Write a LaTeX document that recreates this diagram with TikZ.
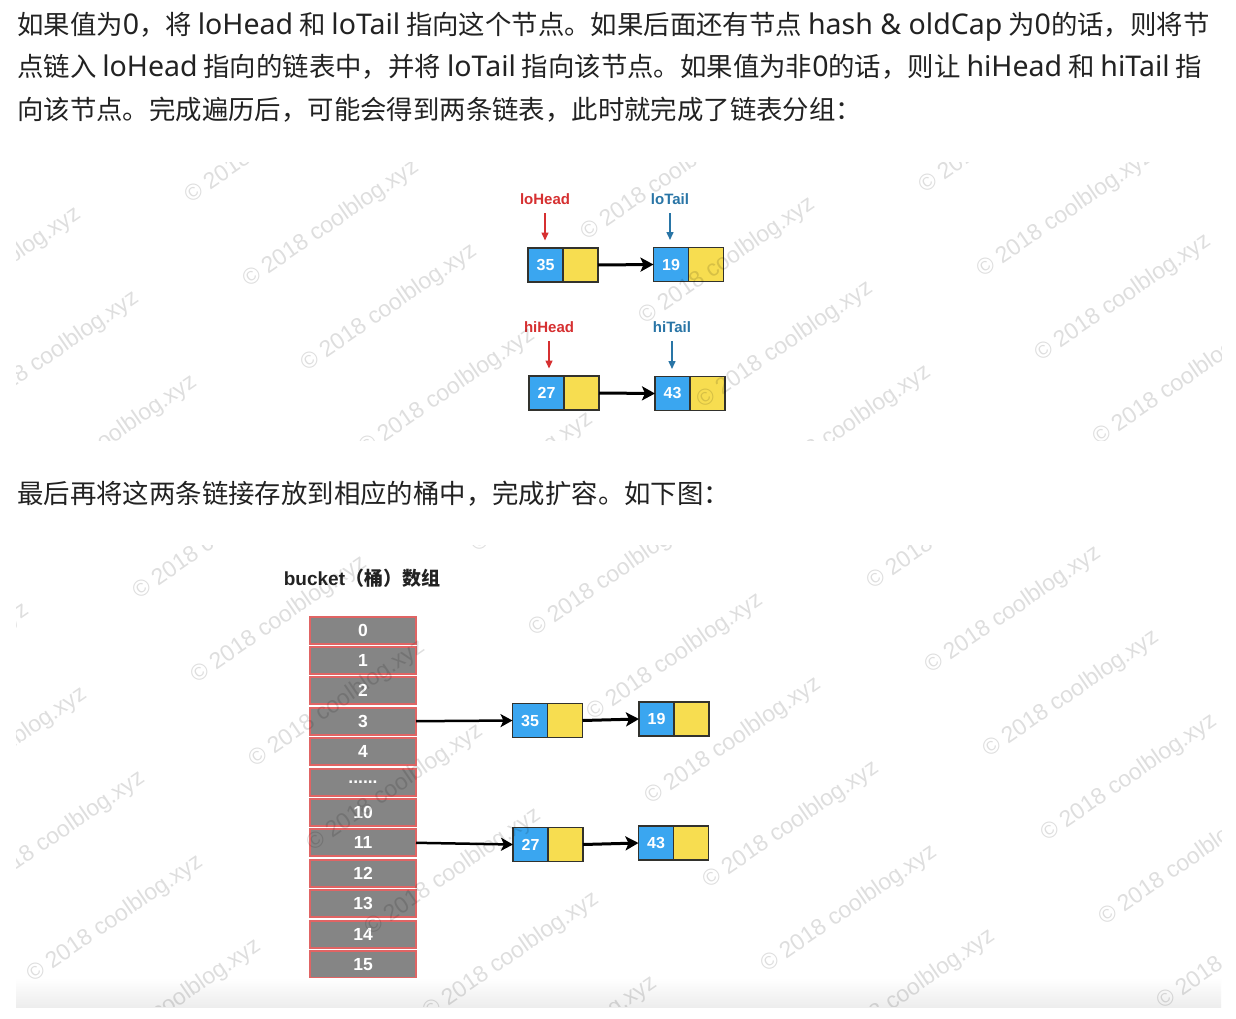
\documentclass[tikz,border=0pt]{standalone}
\usepackage{fontspec}
\setmainfont{Noto Sans CJK SC}
\newfontfamily\latfont[Scale=1.08]{Noto Sans}
\newfontfamily\labfont{Liberation Sans}
\usetikzlibrary{positioning,arrows.meta}

\definecolor{textcol}{RGB}{34,34,34}
\definecolor{redlab}{RGB}{214,48,49}
\definecolor{bluelab}{RGB}{41,117,166}
\definecolor{cellgray}{RGB}{133,133,133}
\definecolor{cellred}{RGB}{224,100,100}
\definecolor{boxblue}{RGB}{58,166,240}
\definecolor{boxyellow}{RGB}{247,221,80}
\definecolor{boxline}{RGB}{50,50,45}

\newcommand{\lat}[1]{{\latfont #1}}
\newcommand{\celldots}{......}

\tikzset{
  bodytext/.style = {anchor=base west, inner sep=0pt, text=textcol,
                     font=\fontsize{26.4}{30}\selectfont},
  valbox/.style   = {draw=boxline, line width=1.5pt, fill=boxblue, text=white,
                     minimum width=35pt, minimum height=34pt, inner sep=0pt, outer sep=0pt,
                     font=\labfont\bfseries\fontsize{16}{18}\selectfont},
  nextbox/.style  = {valbox, fill=boxyellow},
  cell/.style     = {draw=cellred, line width=2pt, fill=cellgray, text=white,
                     minimum width=106pt, minimum height=27pt, inner sep=0pt, outer sep=0pt,
                     font=\labfont\bfseries\fontsize{17.5}{19}\selectfont},
  ptrlabel/.style = {inner sep=0pt, font=\labfont\bfseries\fontsize{15}{17}\selectfont},
  ptrarrow/.style = {line width=1.5pt, -{Triangle[length=8pt,width=7pt]},
                     shorten <=8.5pt, shorten >=7.5pt},
  chainarrow/.style  = {line width=3pt, -{Stealth[length=13pt,width=14pt,inset=3pt]}},
  bucketarrow/.style = {line width=2.5pt, -{Stealth[length=12pt,width=13pt,inset=3pt]}},
  wmark/.style    = {rotate=34.5, inner sep=0pt, text=black, text opacity=0.13,
                     font=\labfont\fontsize{23}{25}\selectfont}
}

\begin{document}
\begin{tikzpicture}[x=1pt, y=-1pt]

  \fill[white] (0,0) rectangle (1236,1019);
  \useasboundingbox (0,0) rectangle (1236,1019);

  % text of the page
  \node[bodytext] (line1) at (17,35) {如果值为\lat{0}，将 \lat{loHead} 和 \lat{loTail} 指向这个节点。如果后面还有节点 \lat{hash \& oldCap} 为\lat{0}的话，则将节};
  \node[bodytext] (line2) at (17,77) {点链入 \lat{loHead} 指向的链表中，并将 \lat{loTail} 指向该节点。如果值为非\lat{0}的话，则让 \lat{hiHead} 和 \lat{hiTail} 指};
  \node[bodytext] (line3) at (17,120) {向该节点。完成遍历后，可能会得到两条链表，此时就完成了链表分组：};
  \node[bodytext] (line4) at (17,503) {最后再将这两条链接存放到相应的桶中，完成扩容。如下图：};

  % two lists
  \node[valbox] (n35) at (545.5,265) {35};
  \node[nextbox, right=0pt of n35] (y35) {};
  \node[valbox] (n19) at (671,264.5) {19};
  \node[nextbox, right=0pt of n19] (y19) {};
  \node[valbox] (n27) at (546.5,393) {27};
  \node[nextbox, right=0pt of n27] (y27) {};
  \node[valbox] (n43) at (672.5,393.5) {43};
  \node[nextbox, right=0pt of n43] (y43) {};

  \draw[chainarrow] (y35.east) -- (n19.west);
  \draw[chainarrow] (y27.east) -- (n43.west);

  \node[ptrlabel, text=redlab]  (lohead) at (545,199) {loHead};
  \node[ptrlabel, text=bluelab] (lotail) at (670,199) {loTail};
  \node[ptrlabel, text=redlab]  (hihead) at (549,327) {hiHead};
  \node[ptrlabel, text=bluelab] (hitail) at (672,327) {hiTail};

  \draw[ptrarrow, redlab]  (lohead.south) -- (lohead.south |- n35.north);
  \draw[ptrarrow, bluelab] (lotail.south) -- (lotail.south |- n19.north);
  \draw[ptrarrow, redlab]  (hihead.south) -- (hihead.south |- n27.north);
  \draw[ptrarrow, bluelab] (hitail.south) -- (hitail.south |- n43.north);

  % bucket array
  \node[font=\bfseries\fontsize{19}{21}\selectfont, text=textcol] (title) at (362,578)
    {{\labfont bucket}（桶）数组};
  \foreach \lab [count=\i from 0] in {0,1,2,3,4,\celldots,10,11,12,13,14,15}
    \node[cell] (b\i) at (363,{630+30.4*\i}) {\lab};

  \node[valbox] (m35) at (530,720.5) {35};
  \node[nextbox, right=0pt of m35] (z35) {};
  \node[valbox] (m19) at (656.5,719) {19};
  \node[nextbox, right=0pt of m19] (z19) {};
  \node[valbox] (m27) at (530.5,844.5) {27};
  \node[nextbox, right=0pt of m27] (z27) {};
  \node[valbox] (m43) at (656,843) {43};
  \node[nextbox, right=0pt of m43] (z43) {};

  \draw[bucketarrow] (b3.east) -- (m35.west);
  \draw[bucketarrow] (b7.east) -- (m27.west);
  \draw[chainarrow] (z35.east) -- (m19.west);
  \draw[chainarrow] (z27.east) -- (m43.west);

  \shade[top color=white, bottom color=black!7] (16,978) rectangle (1221,1007);

  % watermarks
  \begin{scope}
    \clip (16,163) rectangle (1221,440);
    \foreach \i in {-2,...,3}
      \foreach \j in {-4,...,6}
        \node[wmark] at ({331+338*\i+58*\j},{224-47*\i+84*\j}) {© 2018 coolblog.xyz};
  \end{scope}
  \begin{scope}
    \clip (16,545) rectangle (1221,1006);
    \foreach \i in {-2,...,3}
      \foreach \j in {-4,...,6}
        \node[wmark] at ({675+338*\i+58*\j},{657-47*\i+84*\j}) {© 2018 coolblog.xyz};
  \end{scope}

\end{tikzpicture}
\end{document}
